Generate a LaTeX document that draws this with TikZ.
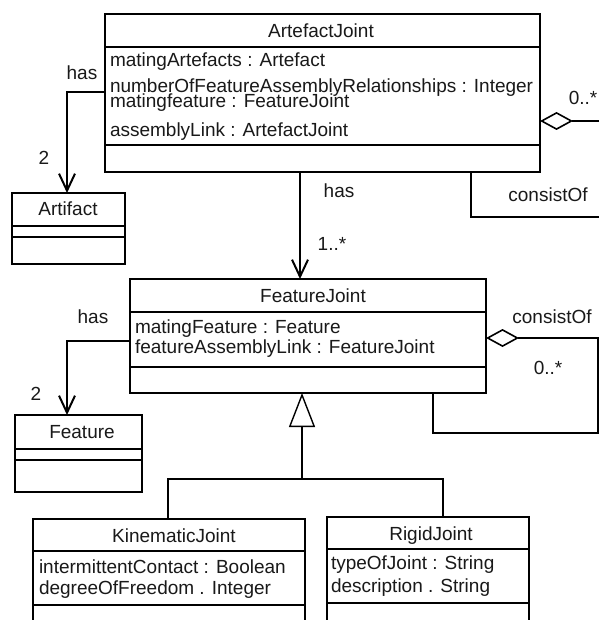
\documentclass[tikz,border=0pt]{standalone}
\usepackage{fontspec}
\setmainfont{Liberation Sans}
\usetikzlibrary{arrows.meta}
\tikzset{
  classbox/.style={draw=black, line width=1.6pt, rectangle, inner sep=0pt, outer sep=0pt, anchor=north west},
  sep/.style={draw=black, line width=1.6pt},
  txt/.style={inner sep=0pt, outer sep=0pt, font=\fontsize{19}{22}\selectfont, text=black!90},
  attr/.style={txt, anchor=base west},
  ttl/.style={txt, anchor=base},
  lbl/.style={txt, anchor=base},
  conn/.style={draw=black, line width=1.2pt},
  barb/.style={-{Straight Barb[length=17pt,width=16pt,line width=2pt]}},
  agg/.style={-{Diamond[open,length=33pt,width=18pt,line width=1.6pt]}},
  gen/.style={-{Triangle[open,length=34pt,width=26pt,line width=1.4pt]}}
}
\begin{document}
\begin{tikzpicture}[x=1pt,y=-1pt]
\fill[white] (0,0) rectangle (599,620);
\clip (0,0) rectangle (599,620);

% ArtefactJoint
\node[classbox, minimum width=435pt, minimum height=158pt] (aj) at (105,14) {};
\draw[sep] (aj.west |- 0,47) -- (aj.east |- 0,47);
\draw[sep] (aj.west |- 0,145) -- (aj.east |- 0,145);
\node[ttl] (ajt) at (321,38) {ArtefactJoint};
\node[attr] (aja1) at (110,67) {matingArtefacts : Artefact};
\node[attr] (aja2) at (110,93) {numberOfFeatureAssemblyRelationships : Integer};
\node[attr] (aja3) at (110,108) {matingfeature : FeatureJoint};
\node[attr] (aja4) at (110,137) {assemblyLink : ArtefactJoint};

% Artifact
\node[classbox, minimum width=113pt, minimum height=71pt] (artifact) at (12,193) {};
\draw[sep] (artifact.west |- 0,226) -- (artifact.east |- 0,226);
\draw[sep] (artifact.west |- 0,237) -- (artifact.east |- 0,237);
\node[ttl] (artt) at (68,215) {Artifact};

% FeatureJoint
\node[classbox, minimum width=356pt, minimum height=114pt] (fj) at (130,279) {};
\draw[sep] (fj.west |- 0,312) -- (fj.east |- 0,312);
\draw[sep] (fj.west |- 0,367) -- (fj.east |- 0,367);
\node[ttl] (fjt) at (313,302) {FeatureJoint};
\node[attr] (fja1) at (135,333) {matingFeature : Feature};
\node[attr] (fja2) at (135,353) {featureAssemblyLink : FeatureJoint};

% Feature
\node[classbox, minimum width=127pt, minimum height=77pt] (feature) at (15,415) {};
\draw[sep] (feature.west |- 0,449) -- (feature.east |- 0,449);
\draw[sep] (feature.west |- 0,460) -- (feature.east |- 0,460);
\node[ttl] (feat) at (82,438) {Feature};

% KinematicJoint
\node[classbox, minimum width=272pt, minimum height=125pt] (kj) at (33,519) {};
\draw[sep] (kj.west |- 0,551) -- (kj.east |- 0,551);
\draw[sep] (kj.west |- 0,605) -- (kj.east |- 0,605);
\node[ttl] (kjt) at (174,542) {KinematicJoint};
\node[attr] (kja1) at (39,573) {intermittentContact : Boolean};
\node[attr] (kja2) at (39,594) {degreeOfFreedom . Integer};

% RigidJoint
\node[classbox, minimum width=202pt, minimum height=125pt] (rj) at (327,517) {};
\draw[sep] (rj.west |- 0,549) -- (rj.east |- 0,549);
\draw[sep] (rj.west |- 0,603) -- (rj.east |- 0,603);
\node[ttl] (rjt) at (431,540) {RigidJoint};
\node[attr] (rja1) at (331,569) {typeOfJoint : String};
\node[attr] (rja2) at (331,592) {description . String};

% ArtefactJoint has Artifact
\draw[conn, barb] (aj.west |- 0,92) -| (artifact.north -| 67,0);
\node[lbl] (l1) at (82,80) {has};
\node[lbl] (l2) at (44,165) {2};

% ArtefactJoint has FeatureJoint
\draw[conn, barb] (aj.south -| 300,0) -- (fj.north -| 300,0);
\node[lbl] (l3) at (339,197) {has};
\node[lbl] (l4) at (332,250) {1..*};

% ArtefactJoint consistOf (self)
\coordinate (ajr) at (599,121);
\coordinate (ajc) at (599,217);
\draw[conn, agg] (ajr) -- (aj.east |- ajr);
\draw[conn] (aj.south -| 471,0) |- (ajc);
\node[lbl] (l5) at (583,105) {0..*};
\node[lbl] (l6) at (548,202) {consistOf};

% FeatureJoint has Feature
\draw[conn, barb] (fj.west |- 0,341) -| (feature.north -| 67,0);
\node[lbl] (l7) at (93,323) {has};
\node[lbl] (l8) at (36,400) {2};

% FeatureJoint consistOf (self)
\coordinate (fjc1) at (598,433);
\coordinate (fjc2) at (598,338);
\draw[conn, agg] (fj.south -| 433,0) |- (fjc1) -- (fjc2) -- (fj.east |- fjc2);
\node[lbl] (l9) at (552,323) {consistOf};
\node[lbl] (l10) at (548,374) {0..*};

% Generalization
\coordinate (gj) at (302,479);
\draw[conn, gen] (gj) -- (fj.south -| gj);
\draw[conn] (kj.north -| 168,0) |- (gj) -| (rj.north -| 443,0);
\end{tikzpicture}
\end{document}
